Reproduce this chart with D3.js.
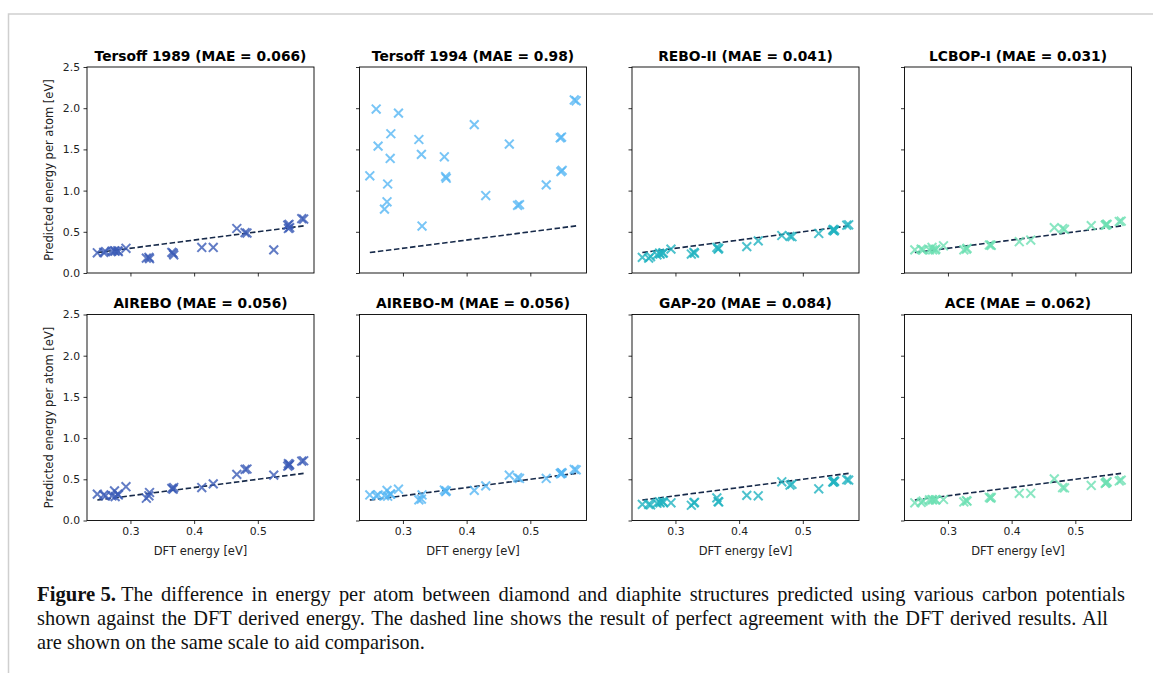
<!DOCTYPE html>
<html>
<head>
<meta charset="utf-8">
<script src="https://cdn.jsdelivr.net/npm/d3@7/dist/d3.min.js"></script>
<style>
  html, body { margin: 0; padding: 0; background: #fff; }
  svg { display: block; }
</style>
</head>
<body>
<svg id="chart" width="1153" height="673"></svg>
<script>
// ---------------- DATA ----------------
const dftEnergy = [0.248, 0.258, 0.261, 0.271, 0.275, 0.276, 0.280, 0.281, 0.293,
  0.325, 0.329, 0.330, 0.365, 0.367, 0.368, 0.412, 0.430, 0.467, 0.480, 0.483,
  0.525, 0.547, 0.549, 0.548, 0.550, 0.569, 0.572];

const tersoff1989 = [0.245, 0.25, 0.26, 0.265, 0.27, 0.265, 0.27, 0.26, 0.30,
  0.18, 0.19, 0.175, 0.25, 0.24, 0.22, 0.31, 0.31, 0.54, 0.49, 0.485,
  0.28, 0.58, 0.59, 0.54, 0.55, 0.66, 0.655];
const tersoff1994 = [1.18, 1.99, 1.54, 0.775, 0.864, 1.08, 1.39, 1.69, 1.94,
  1.62, 1.44, 0.57, 1.41, 1.17, 1.15, 1.80, 0.94, 1.565, 0.82, 0.83,
  1.07, 1.64, 1.65, 1.23, 1.245, 2.10, 2.09];
const reboII = [0.19, 0.18, 0.20, 0.22, 0.24, 0.23, 0.24, 0.245, 0.29,
  0.23, 0.25, 0.24, 0.31, 0.29, 0.30, 0.32, 0.39, 0.455, 0.445, 0.44,
  0.48, 0.52, 0.51, 0.53, 0.52, 0.58, 0.585];
const lcbopI = [0.28, 0.29, 0.28, 0.28, 0.31, 0.28, 0.28, 0.29, 0.33,
  0.28, 0.29, 0.30, 0.34, 0.34, 0.335, 0.38, 0.40, 0.55, 0.54, 0.53,
  0.575, 0.58, 0.59, 0.585, 0.59, 0.625, 0.63];
const airebo = [0.32, 0.31, 0.30, 0.30, 0.36, 0.29, 0.32, 0.31, 0.41,
  0.27, 0.30, 0.34, 0.39, 0.38, 0.40, 0.40, 0.445, 0.56, 0.62, 0.625,
  0.55, 0.66, 0.67, 0.69, 0.68, 0.72, 0.725];
const aireboM = [0.31, 0.30, 0.31, 0.30, 0.365, 0.295, 0.32, 0.32, 0.38,
  0.25, 0.26, 0.31, 0.37, 0.35, 0.36, 0.365, 0.42, 0.55, 0.52, 0.51,
  0.51, 0.57, 0.58, 0.57, 0.575, 0.62, 0.615];
const gap20 = [0.195, 0.195, 0.19, 0.21, 0.225, 0.215, 0.23, 0.22, 0.215,
  0.185, 0.215, 0.22, 0.275, 0.23, 0.225, 0.305, 0.30, 0.47, 0.43, 0.44,
  0.385, 0.47, 0.48, 0.465, 0.475, 0.495, 0.49];
const ace = [0.215, 0.22, 0.235, 0.25, 0.255, 0.25, 0.25, 0.25, 0.255,
  0.225, 0.24, 0.235, 0.28, 0.27, 0.28, 0.33, 0.33, 0.505, 0.40, 0.395,
  0.425, 0.45, 0.465, 0.455, 0.47, 0.48, 0.49];

const panelTitles = ["Tersoff 1989 (MAE = 0.066)", "Tersoff 1994 (MAE = 0.98)",
  "REBO-II (MAE = 0.041)", "LCBOP-I (MAE = 0.031)",
  "AIREBO (MAE = 0.056)", "AIREBO-M (MAE = 0.056)",
  "GAP-20 (MAE = 0.084)", "ACE (MAE = 0.062)"];
const panelSeries = [tersoff1989, tersoff1994, reboII, lcbopI, airebo, aireboM, gap20, ace];
const panelColors = ["#3b5bb6", "#56b6f4", "#21b3c1", "#6de0b3",
                     "#3b5bb6", "#56b6f4", "#21b3c1", "#6de0b3"];

const xTicks = [0.3, 0.4, 0.5];
const yTicks = [0.0, 0.5, 1.0, 1.5, 2.0, 2.5];
const xLabel = "DFT energy [eV]";
const yLabel = "Predicted energy per atom [eV]";

const captionBold = "Figure 5.";
const captionLines = [
  "The difference in energy per atom between diamond and diaphite structures predicted using various carbon potentials",
  "shown against the DFT derived energy. The dashed line shows the result of perfect agreement with the DFT derived results. All",
  "are shown on the same scale to aid comparison."
];

// ---------------- LAYOUT ----------------
const svg = d3.select("#chart");
svg.append("rect").attr("width", 1153).attr("height", 673).attr("fill", "#fff");

// page frame
svg.append("path")
  .attr("d", "M8.5,673 L8.5,14 L1153,14")
  .attr("fill", "none").attr("stroke", "#cfcfcf").attr("stroke-width", 1.5);

const axW = 227, axH = 206;
const colLeft = [87, 359.5, 632, 904.5];
const rowTop = [67, 314.5];

const xmin = d3.min(dftEnergy), xmax = d3.max(dftEnergy);
const pad = (xmax - xmin) * 0.05;
const font = "'DejaVu Sans', sans-serif";

panelSeries.forEach((series, i) => {
  const col = i % 4, row = Math.floor(i / 4);
  const g = svg.append("g").attr("transform", `translate(${colLeft[col]},${rowTop[row]})`);
  const x = d3.scaleLinear().domain([xmin - pad, xmax + pad]).range([0, axW]);
  const y = d3.scaleLinear().domain([0, 2.5]).range([axH, 0]);

  const xAxis = d3.axisBottom(x).tickValues(xTicks).tickSize(3.5).tickPadding(3.5)
    .tickFormat(row === 1 ? d3.format(".1f") : () => "");
  const yAxis = d3.axisLeft(y).tickValues(yTicks).tickSize(3.5).tickPadding(3.5)
    .tickFormat(col === 0 ? d3.format(".1f") : () => "");
  const gx = g.append("g").attr("transform", `translate(0,${axH})`).call(xAxis);
  const gy = g.append("g").call(yAxis);
  [gx, gy].forEach(a => {
    a.select(".domain").remove();
    a.selectAll(".tick line").attr("stroke", "#000").attr("stroke-width", 0.8);
    a.selectAll(".tick text").attr("font-family", font).attr("font-size", 10.8).attr("fill", "#222");
  });

  g.append("rect").attr("width", axW).attr("height", axH)
    .attr("fill", "none").attr("stroke", "#000").attr("stroke-width", 0.9);

  // perfect agreement line
  g.append("line")
    .attr("x1", x(xmin)).attr("y1", y(xmin))
    .attr("x2", x(xmax)).attr("y2", y(xmax))
    .attr("stroke", "#172a4a").attr("stroke-width", 1.6)
    .attr("stroke-dasharray", "5.5,2.6");

  // markers (x)
  const s = 4.4;
  g.append("g").selectAll("path").data(series.map((v, k) => [dftEnergy[k], v]))
    .join("path")
    .attr("d", d => {
      const cx = x(d[0]), cy = y(d[1]);
      return `M${cx - s},${cy - s}L${cx + s},${cy + s}M${cx - s},${cy + s}L${cx + s},${cy - s}`;
    })
    .attr("stroke", panelColors[i]).attr("stroke-width", 2)
    .attr("stroke-opacity", 0.8).attr("fill", "none");

  g.append("text").attr("x", axW / 2).attr("y", -6.5)
    .attr("text-anchor", "middle").attr("font-family", font)
    .attr("font-weight", "bold").attr("font-size", 13.8).attr("fill", "#000")
    .text(panelTitles[i]);

  if (row === 1) {
    g.append("text").attr("x", axW / 2).attr("y", axH + 34)
      .attr("text-anchor", "middle").attr("font-family", font)
      .attr("font-size", 11.5).attr("fill", "#222").text(xLabel);
  }
  if (col === 0) {
    g.append("text")
      .attr("transform", `translate(${-34},${axH / 2}) rotate(-90)`)
      .attr("text-anchor", "middle").attr("font-family", font)
      .attr("font-size", 11.5).attr("fill", "#222").text(yLabel);
  }
});

// ---------------- CAPTION ----------------
const serif = "'Liberation Serif', 'Times New Roman', serif";
const capFs = 20.4;
const capX = 37, capY = [601, 625, 649];
svg.append("text").attr("x", capX).attr("y", capY[0])
  .attr("font-family", serif).attr("font-size", capFs).attr("font-weight", "bold")
  .attr("fill", "#111").attr("textLength", 79).attr("lengthAdjust", "spacingAndGlyphs")
  .text(captionBold);

function captionLine(str, x0, yb, xEnd) {
  const t = svg.append("text").attr("x", x0).attr("y", yb)
    .attr("font-family", serif).attr("font-size", capFs).attr("fill", "#111")
    .text(str);
  if (xEnd != null) {
    const natural = t.node().getComputedTextLength();
    const nSpaces = (str.match(/ /g) || []).length;
    const ws = (xEnd - x0 - natural) / nSpaces;
    t.attr("word-spacing", ws);
  }
  return t;
}
captionLine(captionLines[0], 121, capY[0], 1125);
captionLine(captionLines[1], capX, capY[1], 1108);
captionLine(captionLines[2], capX, capY[2], null);
</script>
</body>
</html>
